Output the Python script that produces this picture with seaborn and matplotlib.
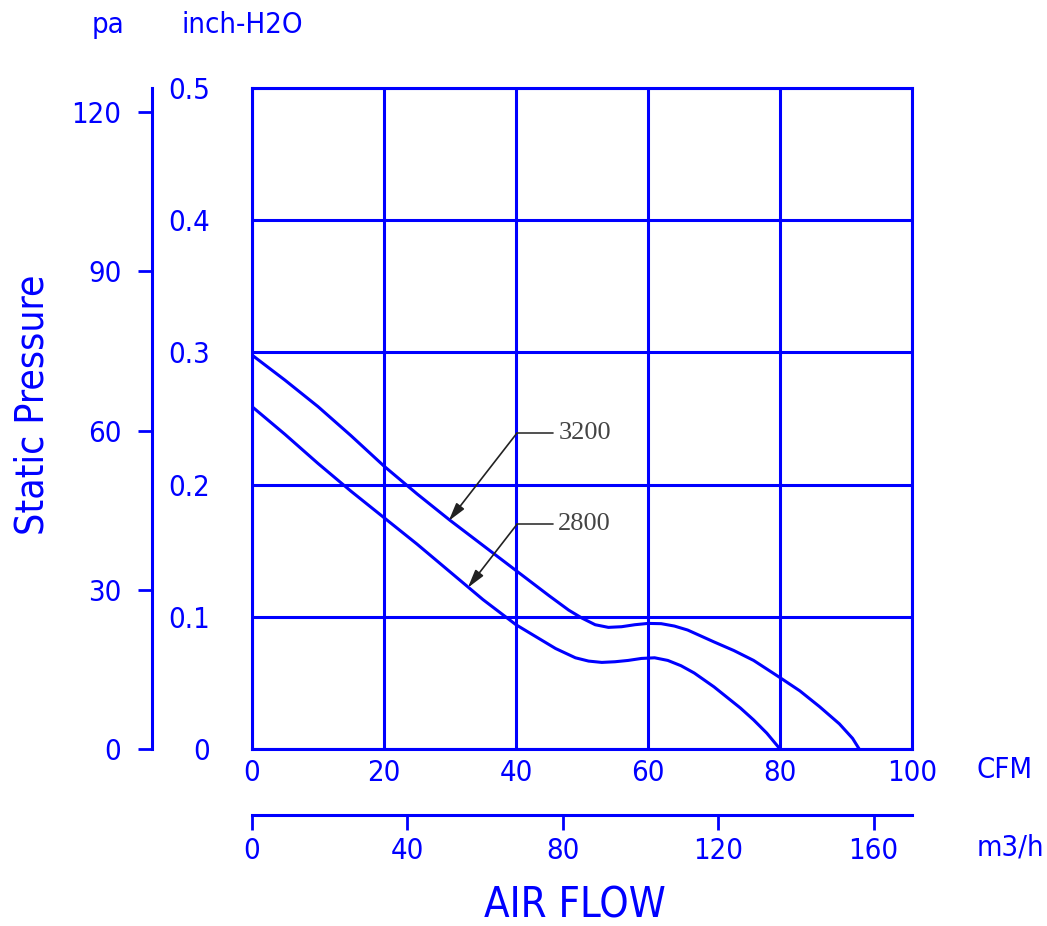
import numpy as np
import pandas as pd
import matplotlib
matplotlib.use('Agg')
import matplotlib.pyplot as plt
import seaborn as sns

# fan curves (CFM vs inch-H2O)
cfm_3200 = [0, 5, 10, 15, 20, 25, 30, 35, 40, 45, 48, 50, 52, 54, 56, 58, 60, 62, 64, 66, 68,
            70, 73, 76, 80, 83, 86, 89, 91, 92]
inch_3200 = [0.298, 0.279, 0.259, 0.237, 0.214, 0.193, 0.173, 0.154, 0.135, 0.116, 0.105, 0.099,
             0.094, 0.092, 0.0925, 0.094, 0.095, 0.0948, 0.093, 0.090, 0.0855, 0.081, 0.0745,
             0.067, 0.054, 0.044, 0.032, 0.019, 0.008, 0.0]
cfm_2800 = [0, 5, 10, 15, 20, 25, 30, 35, 40, 43, 46, 49, 51, 53, 55, 57, 59, 61, 63, 65, 67,
            70, 72, 74, 76, 78, 80]
inch_2800 = [0.259, 0.238, 0.216, 0.195, 0.175, 0.155, 0.134, 0.113, 0.094, 0.085, 0.076, 0.069,
             0.0665, 0.0655, 0.066, 0.067, 0.0685, 0.069, 0.067, 0.063, 0.0575, 0.047, 0.039,
             0.031, 0.022, 0.012, 0.0]

cfm_ticks = [0, 20, 40, 60, 80, 100]
inch_ticks = [0, 0.1, 0.2, 0.3, 0.4, 0.5]
pa_ticks = [0, 30, 60, 90, 120]
m3h_ticks = [0, 40, 80, 120, 160]

# label anchors (data coords): leader start, arrow tip
labels = ['3200', '2800']
label_start = [(40.15, 0.239), (40.15, 0.170)]
label_tip = [(29.8, 0.1725), (32.7, 0.122)]

BLUE = '#0000FF'
sns.set_style('white')
plt.rcParams['font.family'] = ['DejaVu Sans']
plt.rcParams['font.stretch'] = 'condensed'

fig = plt.figure(figsize=(10.47, 9.26), dpi=100)
W, H = 1047, 926
ax = fig.add_axes([252 / W, 1 - 749 / H, 660 / W, 661 / H])

df = pd.concat([
    pd.DataFrame({'cfm': cfm_3200, 'inch': inch_3200, 'rpm': '3200'}),
    pd.DataFrame({'cfm': cfm_2800, 'inch': inch_2800, 'rpm': '2800'}),
])
sns.lineplot(data=df, x='cfm', y='inch', hue='rpm', palette=[BLUE, BLUE],
             linewidth=2.2, legend=False, ax=ax, sort=False)

ax.set_xlim(0, 100)
ax.set_ylim(0, 0.5)
ax.set_xticks(cfm_ticks)
ax.set_yticks(inch_ticks)
ax.set_xticklabels([str(t) for t in cfm_ticks])
ax.set_yticklabels(['0' if t == 0 else f'{t:.1f}' for t in inch_ticks])
ax.grid(True, color=BLUE, linewidth=2.2)
for s in ax.spines.values():
    s.set_color(BLUE)
    s.set_linewidth(2.2)
ax.tick_params(axis='y', length=0, pad=30, labelsize=21, labelcolor=BLUE)
ax.tick_params(axis='x', length=0, pad=7, labelsize=21, labelcolor=BLUE)
ax.set_xlabel('')
ax.set_ylabel('')

for lab, st, tip in zip(labels, label_start, label_tip):
    ax.plot([st[0], 45.6], [st[1], st[1]], color='#333333', linewidth=1.2)
    ax.annotate('', xy=tip, xytext=st,
                arrowprops=dict(arrowstyle='-|>,head_length=1.1,head_width=0.3',
                                color='#222222', lw=1.2, shrinkA=0, shrinkB=0))
    ax.text(46.4, st[1], lab, fontsize=19, color='#444444', va='center', ha='left',
            family=['Liberation Serif', 'DejaVu Serif'], fontstretch='normal')

# pa axis on the far left
ax_pa = fig.add_axes([152 / W, 1 - 749 / H, 0.0001, 661 / H])
ax_pa.set_ylim(0, 0.5 * 249.09)
ax_pa.set_yticks(pa_ticks)
ax_pa.set_xticks([])
for k, s in ax_pa.spines.items():
    s.set_visible(k == 'left')
ax_pa.spines['left'].set_color(BLUE)
ax_pa.spines['left'].set_linewidth(2.2)
ax_pa.tick_params(axis='y', left=True, length=10, width=2, color=BLUE, pad=12,
                  labelsize=21, labelcolor=BLUE)
ax_pa.patch.set_visible(False)

# m3/h axis below
ax_m = fig.add_axes([252 / W, 1 - 815 / H, 660 / W, 0.0001])
ax_m.set_xlim(0, 100 * 1.699)
ax_m.set_xticks(m3h_ticks)
ax_m.set_yticks([])
for k, s in ax_m.spines.items():
    s.set_visible(k == 'bottom')
ax_m.spines['bottom'].set_color(BLUE)
ax_m.spines['bottom'].set_linewidth(2.2)
ax_m.tick_params(axis='x', bottom=True, length=11, width=2, color=BLUE, pad=5,
                 labelsize=21, labelcolor=BLUE)
ax_m.patch.set_visible(False)

fig.text(92 / W, 1 - 25 / H, 'pa', color=BLUE, fontsize=21, ha='left', va='center')
fig.text(182 / W, 1 - 25 / H, 'inch-H2O', color=BLUE, fontsize=21, ha='left', va='center')
fig.text(33 / W, 1 - 405 / H, 'Static Pressure', color=BLUE, fontsize=28, rotation=90,
         ha='center', va='center')
fig.text(977 / W, 1 - 770 / H, 'CFM', color=BLUE, fontsize=21, ha='left', va='center')
fig.text(977 / W, 1 - 847 / H, 'm3/h', color=BLUE, fontsize=21, ha='left', va='center')
fig.text(575 / W, 1 - 905 / H, 'AIR FLOW', color=BLUE, fontsize=30, ha='center', va='center')

fig.savefig('out.png', dpi=100)
